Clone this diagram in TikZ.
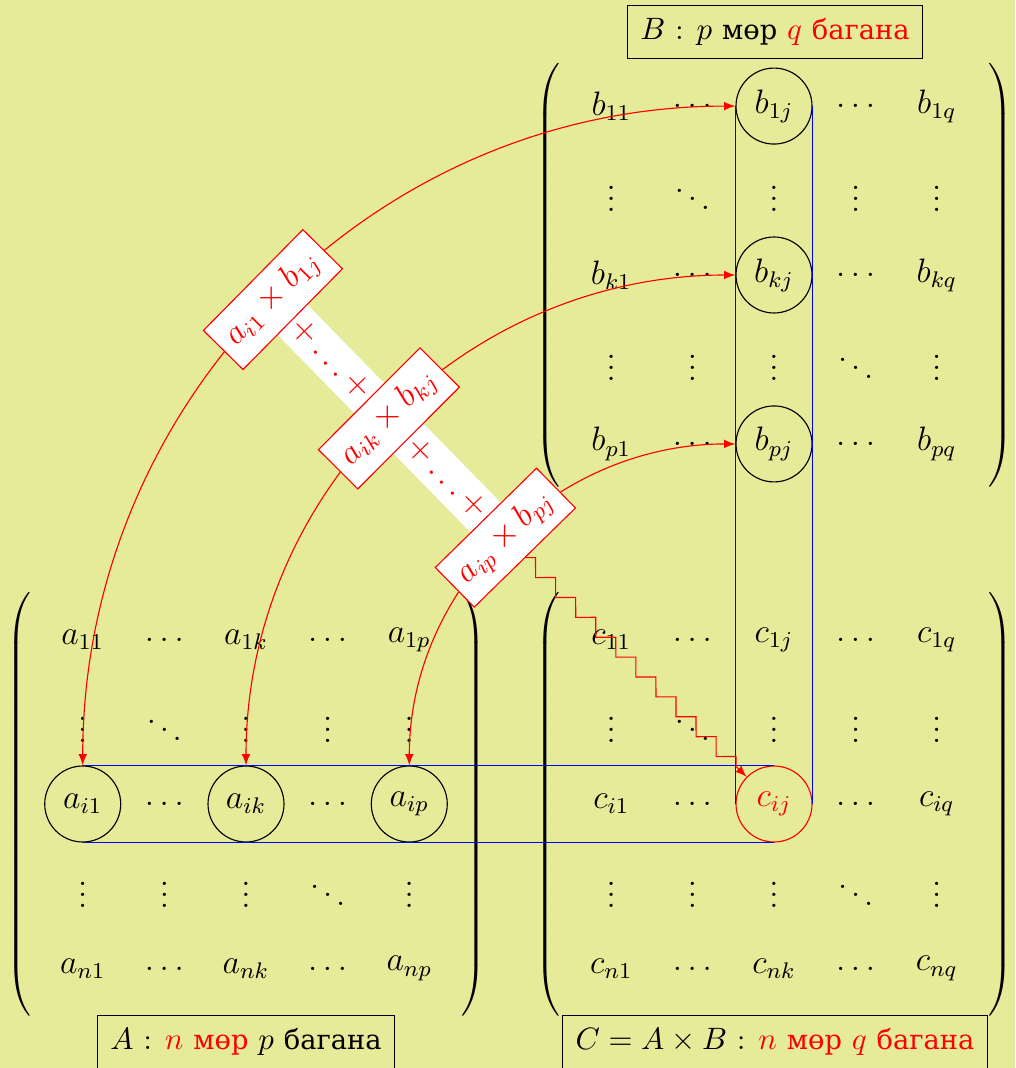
\documentclass[tikz,border=0pt]{standalone}
\usepackage{fontspec}
\newfontfamily\mncyr{DejaVu Serif}[Scale=0.92]
\usetikzlibrary{matrix,decorations.pathmorphing,arrows}
\definecolor{bgc}{RGB}{229,235,153}
\pgfdeclarelayer{background}
\pgfsetlayers{background,main}
\begin{document}
\begin{tikzpicture}[x=0.354pt,y=0.354pt,>=latex,
  entry/.style={minimum size=26.9pt,inner sep=0pt,anchor=center,font=\large},
  sp/.style={draw,circle,minimum size=26.9pt,inner sep=0pt},
  mul/.style={draw=red,fill=white,text=red,sloped,midway,font=\large,inner sep=4pt},
  plus/.style={text=red,sloped,midway,font=\large},
  lbl/.style={draw,inner sep=4.5pt,font=\fontsize{10.5}{12}\selectfont},
  conn/.style={red,<->},
  band/.style={white,line width=15pt},
  mat/.style={matrix of math nodes,nodes={entry},left delimiter=(,right delimiter=),column sep=1.8pt}
]
\begin{pgfonlayer}{background}
\fill[bgc] (0,0) rectangle (1015,-1068);
\end{pgfonlayer}
\useasboundingbox (0,0) rectangle (1015,-1068);

\matrix (A) [mat,row sep=2.1pt] at (246,-804) {
  a_{11} & \ldots & a_{1k} & \ldots & a_{1p} \\
  \vdots & \ddots & \vdots & \vdots & \vdots \\
  |[sp]| a_{i1} & \ldots & |[sp]| a_{ik} & \ldots & |[sp]| a_{ip} \\
  \vdots & \vdots & \vdots & \ddots & \vdots \\
  a_{n1} & \ldots & a_{nk} & \ldots & a_{np} \\
};
\matrix (B) [mat,row sep=2.8pt] at (774,-275) {
  b_{11} & \ldots & |[sp]| b_{1j} & \ldots & b_{1q} \\
  \vdots & \ddots & \vdots & \vdots & \vdots \\
  b_{k1} & \ldots & |[sp]| b_{kj} & \ldots & b_{kq} \\
  \vdots & \vdots & \vdots & \ddots & \vdots \\
  b_{p1} & \ldots & |[sp]| b_{pj} & \ldots & b_{pq} \\
};
\matrix (C) [mat,row sep=2.1pt] at (774,-804) {
  c_{11} & \ldots & c_{1j} & \ldots & c_{1q} \\
  \vdots & \ddots & \vdots & \vdots & \vdots \\
  c_{i1} & \ldots & |[sp,red]| c_{ij} & \ldots & c_{iq} \\
  \vdots & \vdots & \vdots & \ddots & \vdots \\
  c_{n1} & \ldots & c_{nk} & \ldots & c_{nq} \\
};

\node[lbl] (LA) at (246,-1042) {$A$ : \textcolor{red}{$n$ {\mncyr мөр}} $p$ {\mncyr багана}};
\node[lbl] (LB) at (775,-32) {$B$ : $p$ {\mncyr мөр} \textcolor{red}{$q$ {\mncyr багана}}};
\node[lbl] (LC) at (775,-1042) {$C=A\times B$ : \textcolor{red}{$n$ {\mncyr мөр}} \textcolor{red}{$q$ {\mncyr багана}}};

\draw[blue] (A-3-1.north) -- (C-3-3.north);
\draw[blue] (A-3-1.south) -- (C-3-3.south);
\draw[blue] (B-1-3.west) -- (C-3-3.west);
\draw[blue] (B-1-3.east) -- (C-3-3.east);

\draw[conn] (A-3-1.north) to[out=90,in=180] node[mul] (x) {$a_{i1}\times b_{1j}$} (B-1-3.west);
\draw[conn] (A-3-3.north) to[out=90,in=180] node[mul] (y) {$a_{ik}\times b_{kj}$} (B-3-3.west);
\draw[conn] (A-3-5.north) to[out=90,in=180] node[mul] (z) {$a_{ip}\times b_{pj}$} (B-5-3.west);

\begin{pgfonlayer}{background}
\draw[band] (x.center) -- node[plus] {$+\ldots+$} (y.center) -- node[plus] {$+\ldots+$} (z.center);
\end{pgfonlayer}

\draw[red,->,decorate,decoration={zigzag,segment length=10pt,amplitude=2.5pt,post length=4pt}] (z) -- (C-3-3);
\end{tikzpicture}
\end{document}
